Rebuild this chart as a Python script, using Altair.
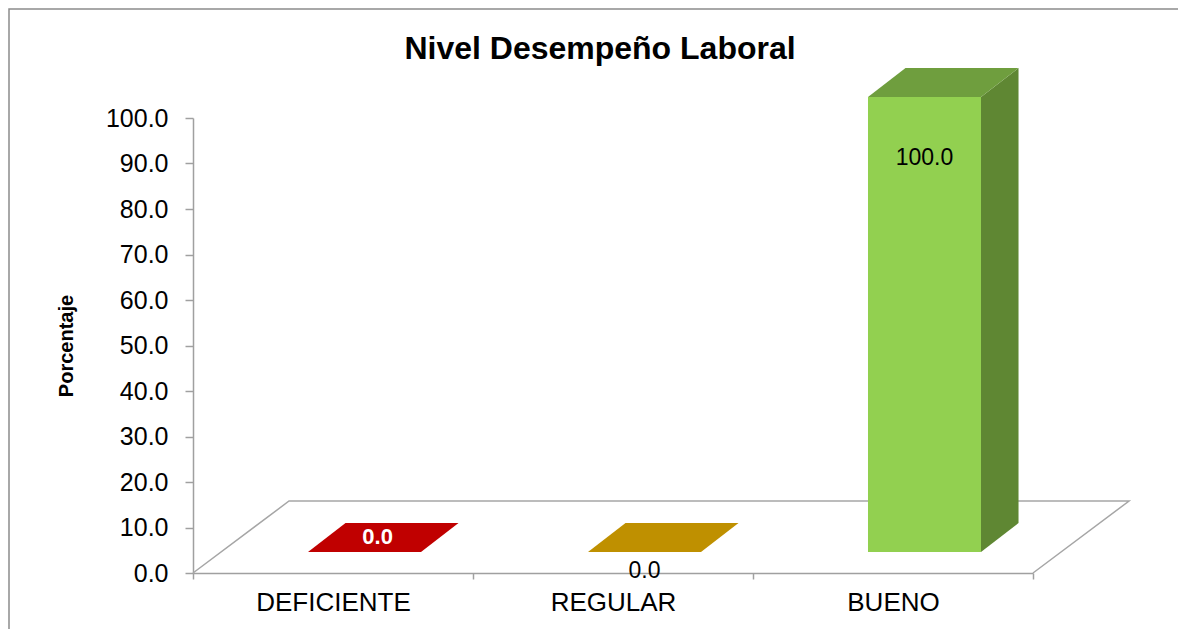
import altair as alt
import pandas as pd

# ---- data ----
categories = ["DEFICIENTE", "REGULAR", "BUENO"]
values = [0.0, 0.0, 100.0]
front_colors = ["#C00000", "#BF9000", "#92D050"]
top_colors = ["#C00000", "#BF9000", "#6F9E3E"]
side_colors = ["#A00000", "#9F7800", "#5F8733"]
label_colors = ["#FFFFFF", "#000000", "#000000"]
label_weights = ["bold", "normal", "normal"]
label_places = ["top", "below", "inside"]
y_ticks = [0, 10, 20, 30, 40, 50, 60, 70, 80, 90, 100]

# ---- pseudo-3D geometry (x in category units, y in percent units) ----
HALF_W = 0.2018
FX, FY = 0.1125, 4.62   # front face pushed into depth
BX, BY = 0.134, 6.37    # bar depth
DX, DY = 0.343, 15.82   # floor depth
N = len(categories)

front_rows, side_rows, top_rows, label_rows = [], [], [], []
for i, (cat, v) in enumerate(zip(categories, values)):
    c = i + 0.5 + FX
    x0, x1 = c - HALF_W, c + HALF_W
    y0, y1 = FY, FY + v
    front_rows.append(dict(cat=cat, x=x0, x2=x1, y=y0, y2=y1, color=front_colors[i]))
    side_rows += [dict(cat=cat, x=x1, y=y1, y2=y0, color=side_colors[i]),
                  dict(cat=cat, x=x1 + BX, y=y1 + BY, y2=y0 + BY, color=side_colors[i])]
    top_rows += [dict(cat=cat, y=y1, x=x0, x2=x1, color=top_colors[i]),
                 dict(cat=cat, y=y1 + BY, x=x0 + BX, x2=x1 + BX, color=top_colors[i])]
    place = label_places[i]
    if place == "top":
        lx, ly = c + BX / 2 - 0.02, y1 + BY / 2
    elif place == "below":
        lx, ly = c, y0 - 4.2
    else:
        lx, ly = c, y1 - 13.5
    label_rows.append(dict(cat=cat, x=lx, y=ly, text=f"{v:.1f}",
                           color=label_colors[i], weight=label_weights[i]))

floor_rows = [dict(o=0, x=0, y=0), dict(o=1, x=DX, y=DY),
              dict(o=2, x=N + DX, y=DY), dict(o=3, x=N, y=0)]

base_df = pd.DataFrame({"cat": categories, "value": values})
front_df = pd.DataFrame(front_rows)
side_df = pd.DataFrame(side_rows)
top_df = pd.DataFrame(top_rows)
label_df = pd.DataFrame(label_rows)
floor_df = pd.DataFrame(floor_rows)

FONT = "Liberation Sans"
xq = alt.Scale(domain=[0, N], nice=False, zero=False)
yq = alt.Scale(domain=[0, 100], nice=False, zero=False)
GRAY = "#A0A0A0"

# frame around the whole chart (right and bottom edges fall outside the page)
frame = alt.Chart(pd.DataFrame({"a": [0]})).mark_rect(
    filled=False, stroke="#8C8C8C", strokeWidth=1.5
).encode(x=alt.value(-184), x2=alt.value(1010), y=alt.value(-109), y2=alt.value(540))

# invisible bars carrying the category axis and the value axis
axes_layer = alt.Chart(base_df).mark_bar(opacity=0).encode(
    x=alt.X("cat:N", sort=categories, scale=alt.Scale(padding=0),
            axis=alt.Axis(title=None, labelAngle=0, tickBand="extent", tickSize=6,
                          tickColor=GRAY, domainColor=GRAY, domainWidth=1.5, tickWidth=1.5,
                          labelFont=FONT, labelFontSize=26, labelColor="black",
                          labelPadding=10, grid=False)),
    y=alt.Y("value:Q", scale=yq,
            axis=alt.Axis(title="Porcentaje", values=y_ticks, format=".1f", tickSize=8,
                          tickColor=GRAY, domainColor=GRAY, domainWidth=1.5, tickWidth=1.5,
                          labelFont=FONT, labelFontSize=25, labelColor="black",
                          labelPadding=17, grid=False, titleFont=FONT, titleFontSize=20,
                          titleFontWeight="bold", titleColor="black", titlePadding=29)),
)

floor = alt.Chart(floor_df).mark_line(color="#A6A6A6", strokeWidth=1.5).encode(
    x=alt.X("x:Q", scale=xq, axis=None),
    y=alt.Y("y:Q", scale=yq, axis=None),
    order="o:O",
)

front = alt.Chart(front_df).mark_rect().encode(
    x=alt.X("x:Q", scale=xq, axis=None), x2="x2:Q",
    y=alt.Y("y:Q", scale=yq, axis=None), y2="y2:Q",
    color=alt.Color("color:N", scale=None),
)

side = alt.Chart(side_df).mark_area(orient="vertical").encode(
    x=alt.X("x:Q", scale=xq, axis=None),
    y=alt.Y("y:Q", scale=yq, axis=None), y2="y2:Q",
    color=alt.Color("color:N", scale=None),
    detail="cat:N",
)

top = alt.Chart(top_df).mark_area(orient="horizontal").encode(
    y=alt.Y("y:Q", scale=yq, axis=None),
    x=alt.X("x:Q", scale=xq, axis=None), x2="x2:Q",
    color=alt.Color("color:N", scale=None),
    detail="cat:N",
)

def label_layer(weight, size):
    return alt.Chart(label_df).transform_filter(
        alt.datum.weight == weight
    ).mark_text(font=FONT, fontSize=size, fontWeight=weight, baseline="middle").encode(
        x=alt.X("x:Q", scale=xq, axis=None),
        y=alt.Y("y:Q", scale=yq, axis=None),
        text="text:N",
        color=alt.Color("color:N", scale=None),
    )

chart = alt.layer(
    frame, axes_layer, floor, front, side, top,
    label_layer("bold", 22), label_layer("normal", 23)
).resolve_scale(
    x="independent", y="independent", color="independent"
).properties(
    width=840, height=455,
    title=alt.TitleParams("Nivel Desempeño Laboral", font=FONT, fontSize=32,
                          fontWeight="bold", color="black", anchor="middle",
                          baseline="alphabetic", offset=-83, dx=-13),
    autosize=alt.AutoSizeParams(type="none"),
    padding={"left": 185, "top": 110, "right": 145, "bottom": 56},
).configure(background="white", view=alt.ViewConfig(stroke=None))

chart.save("out.html", embed_options={"renderer": "svg", "actions": False})
